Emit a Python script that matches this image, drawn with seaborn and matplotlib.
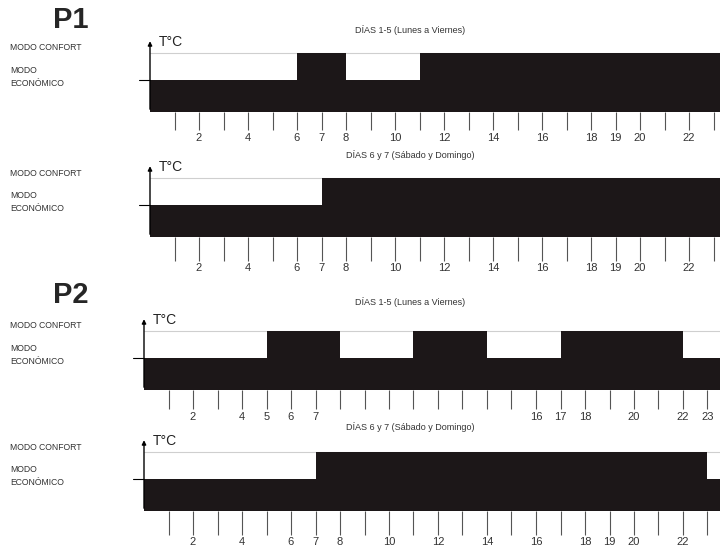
import matplotlib
matplotlib.use("Agg")
import matplotlib.pyplot as plt
import seaborn as sns

# Heating schedules (hour where each segment starts, last value = end of day)
p1_week_edges = [0, 6, 8, 11, 24]
p1_week_modes = ["ECO", "CONF", "ECO", "CONF"]

p1_weekend_edges = [0, 7, 24]
p1_weekend_modes = ["ECO", "CONF"]

p2_week_edges = [0, 5, 8, 11, 14, 17, 22, 24]
p2_week_modes = ["ECO", "CONF", "ECO", "CONF", "ECO", "CONF", "ECO"]

p2_weekend_edges = [0, 7, 23, 24]
p2_weekend_modes = ["ECO", "CONF", "ECO"]

# hour labels under each axis
p1_week_labels = [2, 4, 6, 7, 8, 10, 12, 14, 16, 18, 19, 20, 22]
p1_weekend_labels = [2, 4, 6, 7, 8, 10, 12, 14, 16, 18, 19, 20, 22]
p2_week_labels = [2, 4, 5, 6, 7, 16, 17, 18, 20, 22, 23]
p2_weekend_labels = [2, 4, 6, 7, 8, 10, 12, 14, 16, 18, 19, 20, 22]

titles = ["DÍAS 1-5 (Lunes a Viernes)", "DÍAS 6 y 7 (Sábado y Domingo)",
          "DÍAS 1-5 (Lunes a Viernes)", "DÍAS 6 y 7 (Sábado y Domingo)"]

level = {"ECO": 1.0, "CONF": 1.85}

sns.set_theme(style="white")
plt.rcParams["font.family"] = ["Liberation Sans", "DejaVu Sans"]

W, H = 720, 551
fig = plt.figure(figsize=(W / 100, H / 100), dpi=100)

UNIT = 32      # px for one level unit
HOUR = 24.5    # px per hour
YTOP = 2.35

panels = [
    (p1_week_edges, p1_week_modes, p1_week_labels, 150, 112, 13),
    (p1_weekend_edges, p1_weekend_modes, p1_weekend_labels, 150, 237, 17),
    (p2_week_edges, p2_week_modes, p2_week_labels, 144, 390, 14),
    (p2_weekend_edges, p2_weekend_modes, p2_weekend_labels, 144, 511, 17),
]

for i, (edges, modes, labels, left, bottom, tlen) in enumerate(panels):
    height = YTOP * UNIT
    ax = fig.add_axes([left / W, 1 - bottom / H, (W - left) / W, height / H])

    starts = edges[:-1]
    heights = [level[m] for m in modes]
    sns.histplot(x=starts, weights=heights, bins=edges, element="step",
                 fill=True, color="#1c1718", alpha=1, linewidth=0, ax=ax)

    ax.axhline(level["CONF"], color="#cfcfcf", lw=0.8, zorder=0)

    ax.set_xlim(0, (W - left) / HOUR)
    ax.set_ylim(0, YTOP)
    ax.set_xlabel("")
    ax.set_ylabel("")
    ax.set_yticks([])
    for s in ax.spines.values():
        s.set_visible(False)

    hours = list(range(1, 24))
    ax.set_xticks(hours)
    ax.set_xticklabels([str(h) if h in labels else "" for h in hours])
    ax.tick_params(axis="x", bottom=True, length=tlen, width=0.8,
                   color="#555555", pad=2, labelsize=8, labelcolor="#333333")

    # vertical temperature axis with arrow
    ax.annotate("", xy=(0, 2.3), xytext=(0, 0), annotation_clip=False,
                arrowprops=dict(arrowstyle="-|>", color="black", lw=1,
                                mutation_scale=6))
    ax.plot([-0.45, 0], [level["ECO"], level["ECO"]], color="black",
            lw=0.8, clip_on=False)
    ax.text(0.35, 2.2, "T°C", fontsize=10, va="center", ha="left",
            color="#222222")

    # title of the schedule
    title_y = [30, 155, 302, 427][i]
    fig.text(410 / W, 1 - title_y / H, titles[i], fontsize=6.5,
             ha="center", va="center", color="#333333")

    # mode labels on the left
    conf_y = bottom - 64
    fig.text(10 / W, 1 - conf_y / H, "MODO CONFORT", fontsize=6.2,
             ha="left", va="center", color="#333333")
    fig.text(10 / W, 1 - (conf_y + 18) / H, "MODO\nECONÓMICO",
             fontsize=6.2, ha="left", va="top", color="#333333",
             linespacing=1.6)

fig.text(53 / W, 1 - 20 / H, "P1", fontsize=21, fontweight="bold",
         ha="left", va="center")
fig.text(53 / W, 1 - 295 / H, "P2", fontsize=21, fontweight="bold",
         ha="left", va="center")

plt.savefig("out.png", dpi=100)
